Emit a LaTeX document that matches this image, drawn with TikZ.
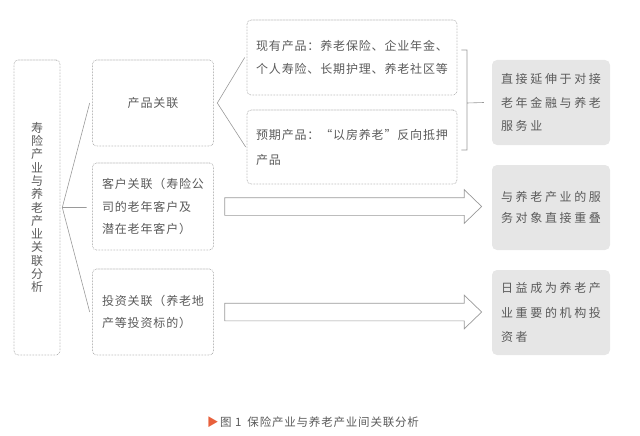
\documentclass[tikz,border=0pt]{standalone}
\usepackage{fontspec}
\setmainfont{Noto Sans CJK SC}
\newfontfamily\cjk[LetterSpace=7]{Noto Sans CJK SC}
\newfontfamily\cjkwide[LetterSpace=22]{Noto Sans CJK SC}
\usetikzlibrary{shapes.arrows}
\definecolor{txt}{HTML}{5A5A5A}
\definecolor{rule}{HTML}{9A9A9A}
\definecolor{shade}{HTML}{E6E6E6}
\definecolor{mark}{HTML}{E8603C}

\begin{document}
\begin{tikzpicture}[x=1pt,y=-1pt,
  dotbox/.style={draw=rule,dash pattern=on 0.6pt off 0.9pt,line width=0.6pt,rounded corners=4pt,inner sep=0pt,text=txt,align=left,font=\cjk\fontsize{12}{22.5}\selectfont},
  resbox/.style={fill=shade,rounded corners=5pt,inner sep=0pt,text=txt,align=left,minimum width=118pt,minimum height=85pt,font=\cjkwide\fontsize{12}{23.5}\selectfont},
  link/.style={draw=rule,line width=0.6pt},
  fatarrow/.style={single arrow,draw=rule,fill=white,line width=0.7pt,inner xsep=0pt,inner ysep=8.5pt,minimum width=0pt,minimum height=257pt,single arrow head extend=8pt,single arrow tip angle=88,anchor=tail}]
\useasboundingbox (0,0) rectangle (640,436);

\node[dotbox,minimum width=46pt,minimum height=295pt,align=center,font=\cjk\fontsize{12}{13.3}\selectfont] (tree) at (37,207.5) {寿\\险\\产\\业\\与\\养\\老\\产\\业\\关\\联\\分\\析};
\node[dotbox,minimum width=121pt,minimum height=86pt] (prod) at (153,103) {产品关联};
\node[dotbox,minimum width=121pt,minimum height=87pt] (cust) at (153,206.5) {客户关联（寿险公\\司的老年客户及\\潜在老年客户）};
\node[dotbox,minimum width=121pt,minimum height=86pt] (inv) at (153,312) {投资关联（养老地\\产等投资标的）};
\node[dotbox,minimum width=210pt,minimum height=75pt] (exist) at (352,57.5) {现有产品：养老保险、企业年金、\\个人寿险、长期护理、养老社区等};
\node[dotbox,minimum width=210pt,minimum height=74pt,font=\cjk\fontsize{12}{25}\selectfont] (plan) at (352,147) {预期产品：“以房养老”反向抵押\\产品};
\node[resbox] (res1) at (551,102.5) {直接延伸于对接\\老年金融与养老\\服务业};
\node[resbox,font=\cjkwide\fontsize{12}{21}\selectfont] (res2) at (551,207.5) {与养老产业的服\\务对象直接重叠};
\node[resbox,font=\cjkwide\fontsize{12}{24.5}\selectfont] (res3) at (551,312.5) {日益成为养老产\\业重要的机构投\\资者};

\coordinate (fork) at ([xshift=2pt]tree.east);
\coordinate (pfork) at ([xshift=3.5pt]prod.east);
\coordinate (rb) at (467,103);

\draw[link] ([xshift=-2.5pt]prod.west) -- (fork) -- ([xshift=-2.5pt]inv.west)
  (fork) -- ([xshift=-5.5pt]cust.west |- fork);
\draw[link] ([xshift=-2pt]exist.west) -- (pfork) -- ([xshift=-1pt]plan.west);
\draw[link] ([xshift=4pt,yshift=7.5pt]exist.east) -| (rb) |- ([xshift=4pt,yshift=-3pt]plan.east)
  (rb) -- ([xshift=-8pt]res1.west);

\node[fatarrow] (arr1) at ([xshift=10.5pt]cust.east) {};
\node[fatarrow] (arr2) at ([xshift=10.5pt]inv.east) {};

\node[text=txt,font=\cjk\fontsize{11.5}{14}\selectfont] (cap) at (313,422) {\textcolor{mark}{▶}\hspace{1.5pt}图\hspace{3.5pt}1\hspace{6pt}保险产业与养老产业间关联分析};
\end{tikzpicture}
\end{document}
